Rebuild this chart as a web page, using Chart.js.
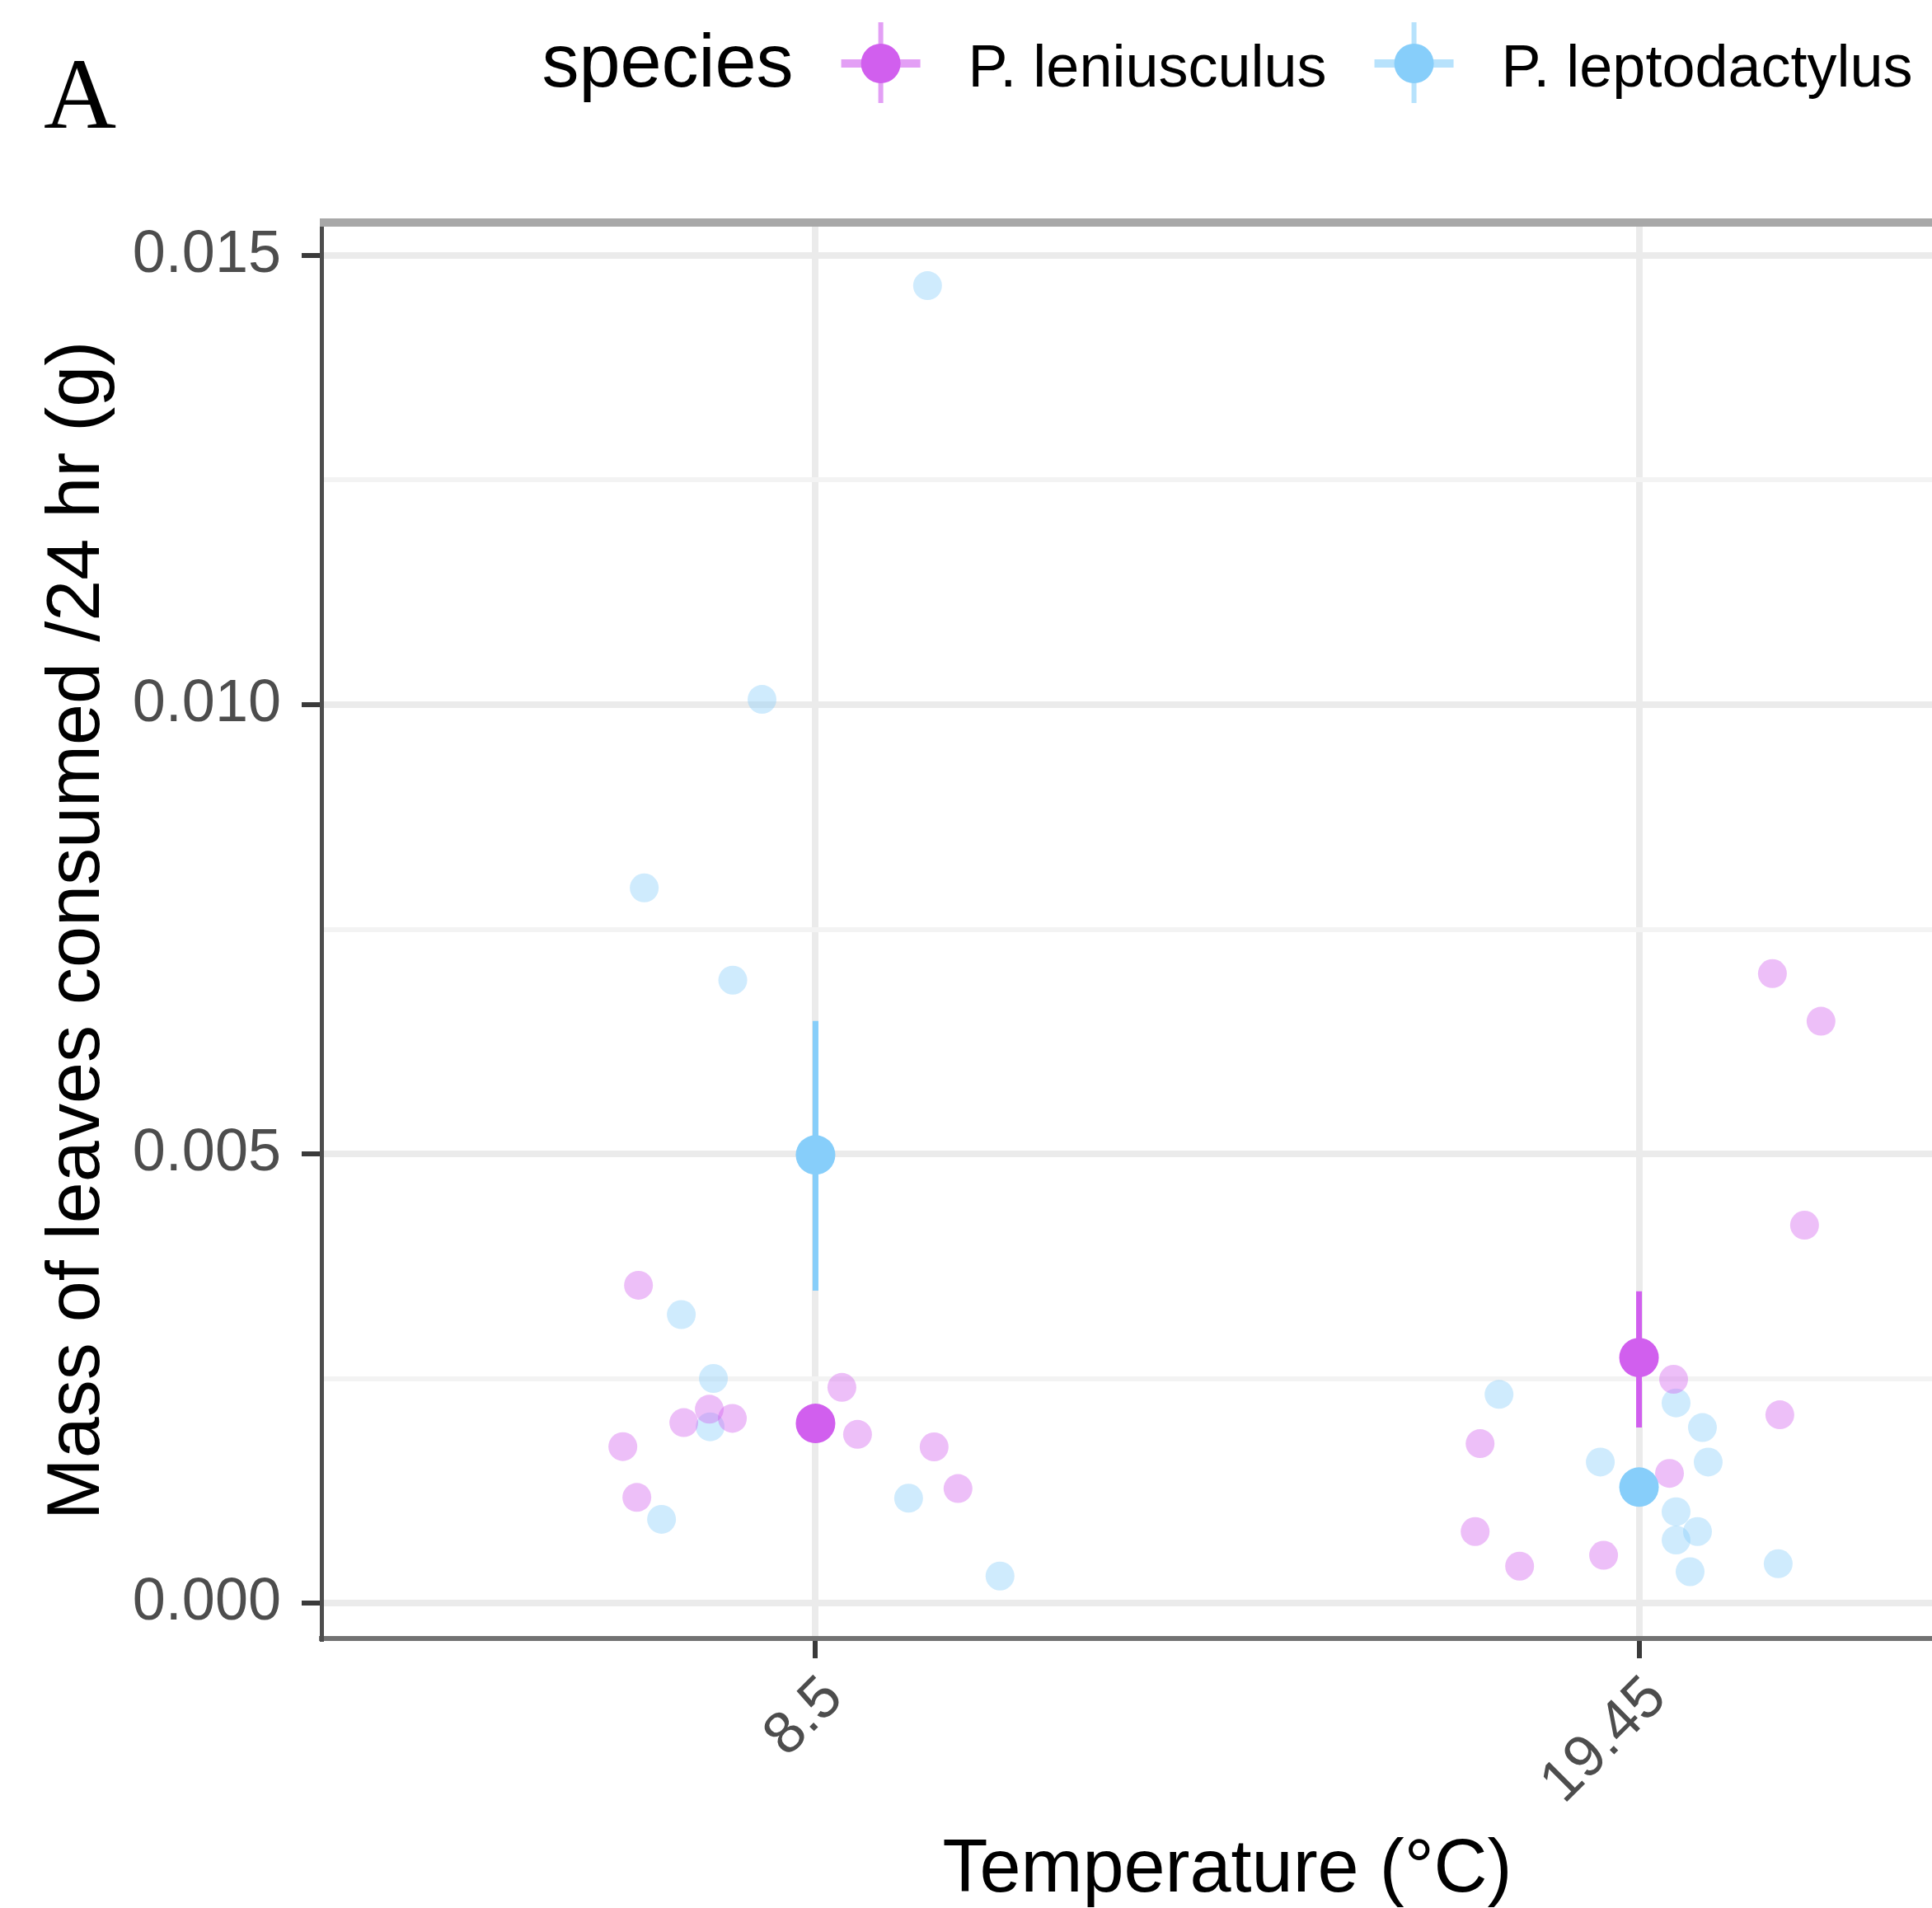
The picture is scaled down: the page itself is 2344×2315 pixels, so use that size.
<!DOCTYPE html>
<html>
<head>
<meta charset="utf-8">
<script src="https://cdn.jsdelivr.net/npm/chart.js@4.4.0/dist/chart.umd.min.js"></script>
<style>
  html, body { margin: 0; padding: 0; background: #fff; overflow: hidden; }
  canvas { display: block; }
</style>
</head>
<body>
<canvas id="chart" width="2612" height="2315"></canvas>
<script>
// Temperatura (categorias do eixo x) e posições na escala
const categories = ['8.5', '19.45'];
const categoryPos = [1, 2];

const yTicks = [0, 0.0025, 0.005, 0.0075, 0.01, 0.0125, 0.015];
const yTickLabels = ['0.000', '', '0.005', '', '0.010', '', '0.015'];

const speciesNames = ['P. leniusculus', 'P. leptodactylus'];
const colors = ['#D15FEE', '#87CEFA'];
const colorsLight = ['rgba(209, 95, 238, 0.4)', 'rgba(135, 206, 250, 0.4)'];

// pontos individuais (posição com jitter, valor)
const lenX = [0.785, 0.766, 0.783, 0.840, 0.871, 0.899, 1.032, 1.051, 1.144, 1.173,
              2.162, 2.221, 2.201, 2.171, 2.042, 1.807, 2.037, 1.801, 1.855, 1.957];
const lenY = [0.00354, 0.001745, 0.00118, 0.002012, 0.002161, 0.002059, 0.002404, 0.001881, 0.001742, 0.001278,
              0.007008, 0.006478, 0.004209, 0.002099, 0.002494, 0.001778, 0.001447, 0.0008, 0.000415, 0.000536];
const lepX = [1.136, 0.935, 0.792, 0.8995, 0.837, 0.876, 0.872, 0.813, 1.113, 1.224,
              1.830, 1.953, 2.045, 2.077, 2.084, 2.045, 2.045, 2.071, 2.062, 2.169];
const lepY = [0.014663, 0.010059, 0.007962, 0.006935, 0.003214, 0.002503, 0.001965, 0.000936, 0.001171, 0.000305,
              0.002326, 0.001573, 0.002231, 0.001957, 0.001573, 0.001021, 0.000705, 0.0008, 0.000353, 0.000442];

// médias e barras de erro por temperatura
const lenMean = [0.002003, 0.002736];
const lenLow = [0.00179, 0.001957];
const lenHigh = [0.00221, 0.003473];
const lepMean = [0.00499, 0.001294];
const lepLow = [0.00348, 0.00109];
const lepHigh = [0.00648, 0.0015];

const FONT = "'Liberation Sans', Arial, sans-serif";

function points(xs, ys) {
    return xs.map((x, i) => ({ x: x, y: ys[i] }));
}

function errorBars(low, high) {
    let out = [];
    categoryPos.forEach((p, i) => {
        out.push({ x: p, y: low[i] }, { x: p, y: high[i] });
        if (i < categoryPos.length - 1) out.push({ x: p, y: null });
    });
    return out;
}

// legenda no estilo ggplot (título na mesma linha) + letra do painel
const extrasPlugin = {
    id: 'extras',
    afterDraw(chart) {
        const ctx = chart.ctx;
        const area = chart.chartArea;
        ctx.save();

        // borda superior do painel
        ctx.strokeStyle = '#A8A8A8';
        ctx.lineWidth = 10;
        ctx.beginPath();
        ctx.moveTo(area.left - 2, area.top);
        ctx.lineTo(area.right, area.top);
        ctx.stroke();

        // letra do painel
        ctx.fillStyle = '#000';
        ctx.font = "122px 'Liberation Serif', 'Times New Roman', serif";
        ctx.textBaseline = 'alphabetic';
        ctx.textAlign = 'left';
        ctx.fillText('A', 53, 155);

        // legenda
        const keyW = 96, gap = 58, baseline = 105, keyY = 77;
        ctx.font = '90px ' + FONT;
        const titleW = ctx.measureText('species').width;
        ctx.font = '72px ' + FONT;
        const labelW = speciesNames.map(n => ctx.measureText(n).width);
        let total = titleW;
        labelW.forEach(w => { total += gap + keyW + gap + w; });
        let x = (area.left + area.right) / 2 - total / 2;

        ctx.font = '90px ' + FONT;
        ctx.fillText('species', x, baseline);
        x += titleW;
        speciesNames.forEach((name, i) => {
            x += gap;
            const cx = x + keyW / 2;
            ctx.fillStyle = colors[i];
            ctx.globalAlpha = 0.6;
            ctx.fillRect(x, keyY - 5, keyW, 10);
            ctx.fillRect(cx - 3, keyY - 50, 6, 98);
            ctx.globalAlpha = 1;
            ctx.beginPath();
            ctx.arc(cx, keyY, 24, 0, Math.PI * 2);
            ctx.fill();
            x += keyW + gap;
            ctx.fillStyle = '#000';
            ctx.font = '72px ' + FONT;
            ctx.fillText(name, x, baseline);
            x += labelW[i];
        });
        ctx.restore();
    }
};

new Chart(document.getElementById('chart'), {
    type: 'scatter',
    data: {
        datasets: [
            {
                label: speciesNames[1] + ' raw',
                data: points(lepX, lepY),
                backgroundColor: colorsLight[1],
                borderWidth: 0,
                pointRadius: 17.5,
                order: 4
            },
            {
                label: speciesNames[0] + ' raw',
                data: points(lenX, lenY),
                backgroundColor: colorsLight[0],
                borderWidth: 0,
                pointRadius: 17.5,
                order: 3
            },
            {
                label: speciesNames[0] + ' erro',
                data: errorBars(lenLow, lenHigh),
                showLine: true,
                spanGaps: false,
                borderColor: colors[0],
                borderWidth: 7,
                pointRadius: 0,
                order: 2
            },
            {
                label: speciesNames[1] + ' erro',
                data: errorBars(lepLow, lepHigh),
                showLine: true,
                spanGaps: false,
                borderColor: colors[1],
                borderWidth: 7,
                pointRadius: 0,
                order: 2
            },
            {
                label: speciesNames[0],
                data: points(categoryPos, lenMean),
                backgroundColor: colors[0],
                borderWidth: 0,
                pointRadius: 24,
                order: 1
            },
            {
                label: speciesNames[1],
                data: points(categoryPos, lepMean),
                backgroundColor: colors[1],
                borderWidth: 0,
                pointRadius: 24,
                order: 1
            }
        ]
    },
    options: {
        responsive: false,
        devicePixelRatio: 1,
        animation: false,
        events: [],
        layout: { padding: { top: 270, right: 3, bottom: 0, left: 0 } },
        plugins: {
            legend: { display: false },
            tooltip: { enabled: false }
        },
        scales: {
            x: {
                type: 'linear',
                min: 0.4,
                max: 2.6,
                afterBuildTicks: s => { s.ticks = categoryPos.map(v => ({ value: v })); },
                afterFit: s => { s.height = 327; },
                ticks: {
                    autoSkip: false,
                    minRotation: 45,
                    maxRotation: 45,
                    padding: 6,
                    labelOffset: 22,
                    color: '#4D4D4D',
                    font: { family: FONT, size: 72 },
                    callback: (v, i) => categories[i]
                },
                grid: {
                    color: '#EBEBEB',
                    lineWidth: 8,
                    tickLength: 24,
                    tickColor: '#3A3A3A',
                    tickWidth: 6
                },
                border: { color: '#727272', width: 6 },
                title: {
                    display: true,
                    text: 'Temperature (°C)',
                    color: '#000',
                    font: { family: FONT, size: 90, lineHeight: 1 },
                    padding: { top: 0, bottom: 0 }
                }
            },
            y: {
                min: -0.00039,
                max: 0.015365,
                afterBuildTicks: s => { s.ticks = yTicks.map(v => ({ value: v })); },
                afterFit: s => { s.width = 390; },
                ticks: {
                    autoSkip: false,
                    padding: 25,
                    color: '#4D4D4D',
                    font: { family: FONT, size: 72 },
                    callback: (v, i) => yTickLabels[i]
                },
                grid: {
                    color: c => yTickLabels[c.index] ? '#EBEBEB' : '#F3F3F3',
                    lineWidth: c => yTickLabels[c.index] ? 8 : 6,
                    tickLength: 24,
                    tickColor: c => yTickLabels[c.index] ? '#3A3A3A' : 'rgba(0,0,0,0)',
                    tickWidth: 6
                },
                border: { color: '#4D4D4D', width: 5 },
                title: {
                    display: true,
                    text: 'Mass of leaves consumed /24 hr (g)',
                    color: '#000',
                    font: { family: FONT, size: 90, lineHeight: 1 },
                    padding: { top: 50, bottom: 0 }
                }
            }
        }
    },
    plugins: [extrasPlugin]
});
</script>
</body>
</html>
